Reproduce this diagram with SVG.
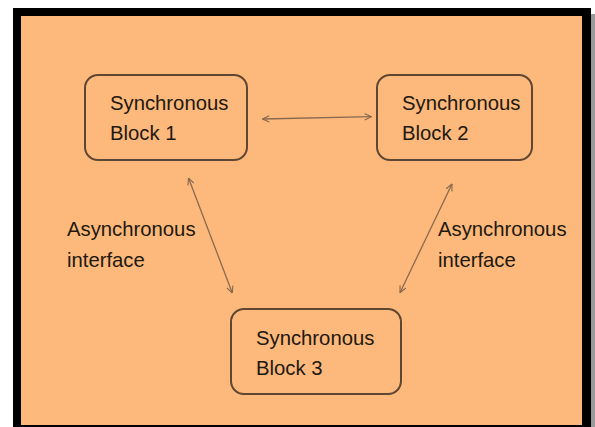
<svg xmlns="http://www.w3.org/2000/svg" width="595" height="427" viewBox="0 0 595 427">
  <style>
    .block rect { fill: none; stroke: #5e4632; stroke-width: 2; }
    .block text, .label text { font-family: "Liberation Sans", "DejaVu Sans", sans-serif; font-size: 20.3px; fill: #21180f; }
    .link { stroke: #8a6a4e; stroke-width: 1.3; fill: none; marker-start: url(#head); marker-end: url(#head); }
  </style>
  <defs>
    <marker id="head" viewBox="0 0 10 10" refX="9.5" refY="5" markerWidth="8" markerHeight="8" markerUnits="userSpaceOnUse" orient="auto-start-reverse">
      <path d="M1,1 L9.5,5 L1,9" fill="none" stroke="#8a6a4e" stroke-width="1.4"/>
    </marker>
  </defs>

  <!-- page frame -->
  <rect x="591" y="14" width="4" height="413" fill="#9a9a9a"/>
  <rect x="13" y="8" width="578" height="419" fill="#000"/>
  <rect x="21" y="16" width="561" height="409" fill="#fdb97c"/>

  <g id="block1" class="block">
    <rect x="85" y="75" width="162" height="85" rx="13"/>
    <text x="110" y="110">Synchronous</text>
    <text x="110" y="140">Block 1</text>
  </g>

  <g id="block2" class="block">
    <rect x="377" y="75" width="155" height="85" rx="13"/>
    <text x="402" y="110">Synchronous</text>
    <text x="402" y="140">Block 2</text>
  </g>

  <g id="block3" class="block">
    <rect x="231" y="309" width="170" height="85" rx="13"/>
    <text x="256" y="345">Synchronous</text>
    <text x="256" y="375">Block 3</text>
  </g>

  <g id="label-left" class="label">
    <text x="67" y="236">Asynchronous</text>
    <text x="67" y="267">interface</text>
  </g>

  <g id="label-right" class="label">
    <text x="438" y="236">Asynchronous</text>
    <text x="438" y="267">interface</text>
  </g>

  <g id="connectors">
    <line class="link" x1="262.5" y1="119" x2="371.5" y2="116.7"/>
    <line class="link" x1="188.5" y1="178" x2="232.3" y2="293"/>
    <line class="link" x1="452" y1="184" x2="400" y2="292.7"/>
  </g>
</svg>
